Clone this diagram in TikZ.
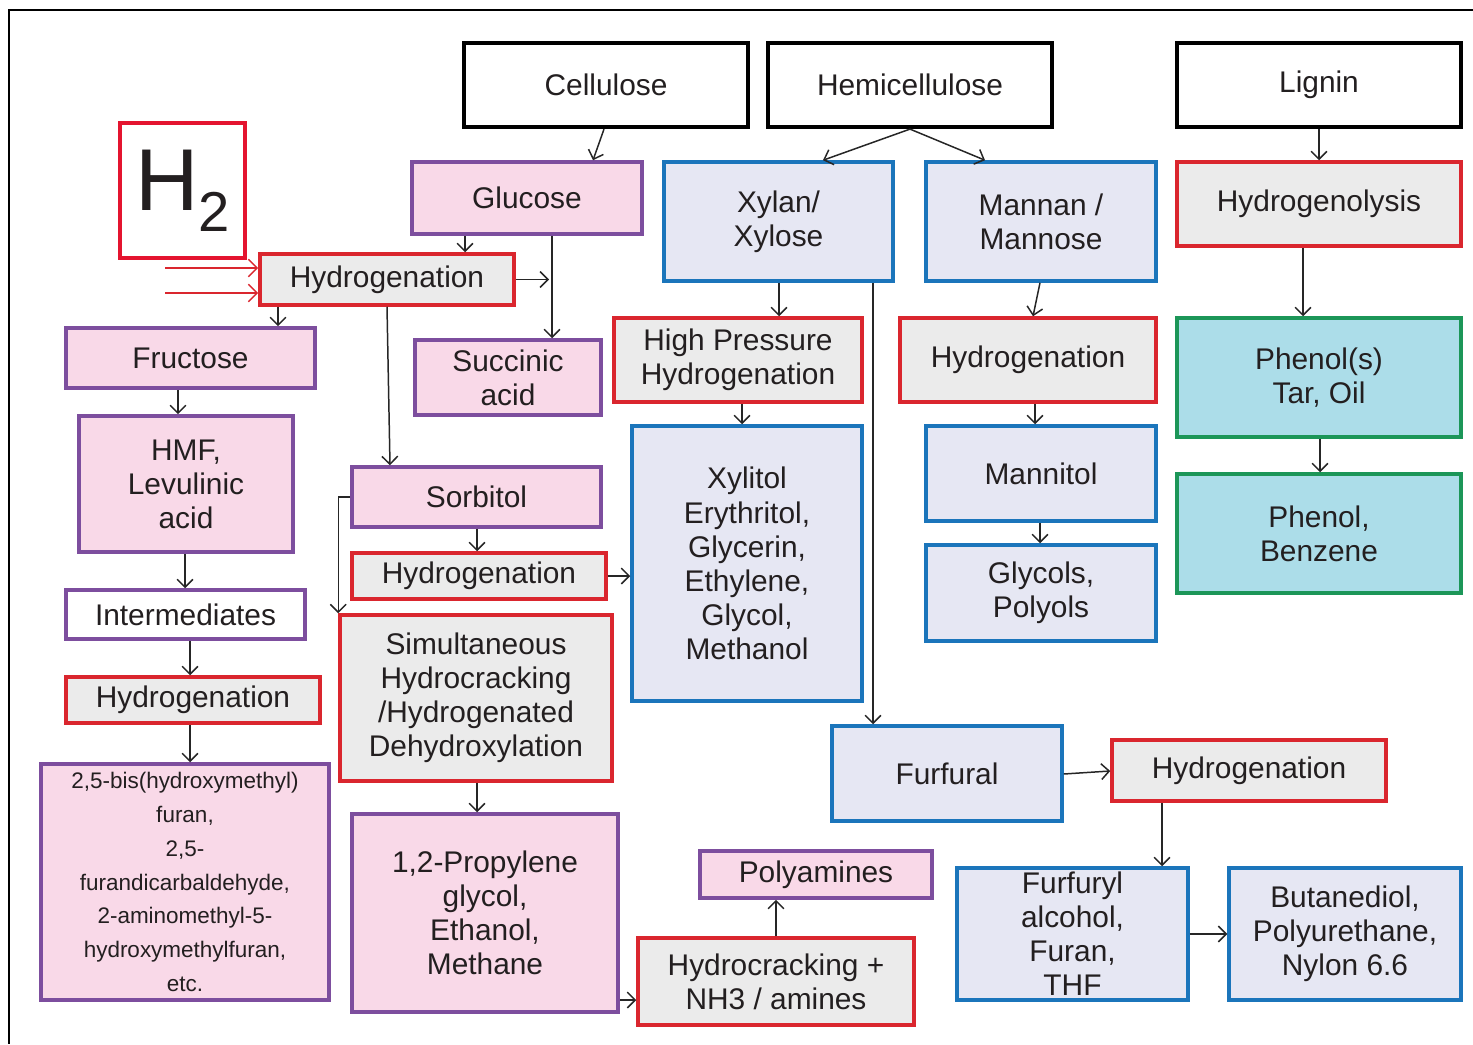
\documentclass[tikz,border=0pt]{standalone}
\usepackage{fontspec}
\setmainfont{Liberation Sans}
\usetikzlibrary{arrows.meta}
\definecolor{txt}{RGB}{35,31,32}
\definecolor{redline}{RGB}{218,38,46}
\definecolor{htwored}{RGB}{228,20,47}
\definecolor{grayfill}{RGB}{235,235,235}
\definecolor{purp}{RGB}{125,78,158}
\definecolor{pinkfill}{RGB}{249,217,232}
\definecolor{blueline}{RGB}{27,117,187}
\definecolor{bluefill}{RGB}{230,231,243}
\definecolor{greenline}{RGB}{28,150,88}
\definecolor{tealfill}{RGB}{172,221,233}

\begin{document}
\begin{tikzpicture}[x=0.02cm, y=-0.02cm,
    every node/.style={font=\fontsize{17}{19.4}\selectfont, text=txt, align=center, inner sep=0pt},
    wh/.style 2 args={minimum width=#1*0.02cm, minimum height=#2*0.02cm},
    source/.style={draw=black, line width=2.4pt, fill=white},
    sugar/.style={draw=purp, line width=2pt, fill=pinkfill},
    process/.style={draw=redline, line width=2pt, fill=grayfill},
    product/.style={draw=blueline, line width=2pt, fill=bluefill},
    aromatic/.style={draw=greenline, line width=2pt, fill=tealfill},
    arr/.style={draw=black!85, line width=0.85pt, -{Straight Barb[length=4.5pt,width=9pt]}},
    feed/.style={draw=redline, line width=0.85pt, -{Straight Barb[length=5pt,width=10pt]}}]
    \useasboundingbox (0,0) rectangle (1473,1044);
    \draw[line width=1pt] (1473,10) -- (9,10) -- (9,1044);

    % feedstocks
    \node[source, wh={284}{84}] (cellulose) at (606,85) {Cellulose};
    \node[source, wh={284}{84}] (hemi) at (910,85) {Hemicellulose};
    \node[source, wh={284}{84}] (lignin) at (1319,85) {Lignin};
    \node[draw=htwored, line width=2.8pt, fill=white, wh={125}{135}] (htwo) at (182.5,190.5)
        {\fontsize{50}{50}\selectfont H\raisebox{-0.42cm}{\fontsize{32}{32}\selectfont 2}};

    % second row
    \node[sugar, wh={230}{72}] (glucose) at (527,198) {Glucose};
    \node[product, wh={229}{119}] (xylan) at (778.5,221.5) {Xylan/\\Xylose};
    \node[product, wh={230}{119}] (mannan) at (1041,221.5) {Mannan /\\Mannose};
    \node[process, wh={284}{84}] (hydrogenolysis) at (1319,204) {Hydrogenolysis};

    % glucose branch
    \node[process, wh={254}{51}] (hydA) at (387,279.5) {Hydrogenation};
    \node[sugar, wh={249}{60}] (fructose) at (190.5,358) {Fructose};
    \node[sugar, wh={186}{75}] (succinic) at (508,377.5) {Succinic\\acid};
    \node[sugar, wh={214}{136}] (hmf) at (186,484) {HMF,\\Levulinic\\acid};
    \node[draw=purp, line width=2pt, fill=white, wh={239}{49}] (interm) at (185.5,614.5) {Intermediates};
    \node[process, wh={254}{46}] (hydD) at (193,700) {Hydrogenation};
    \node[sugar, wh={288}{236}, font=\fontsize{12.8}{19.3}\selectfont] (bhmf) at (185,882)
        {2,5-bis(hydroxymethyl)\\furan,\\2,5-\\furandicarbaldehyde,\\2-aminomethyl-5-\\hydroxymethylfuran,\\etc.};
    \node[sugar, wh={249}{60}] (sorbitol) at (476.5,497) {Sorbitol};
    \node[process, wh={254}{46}] (hydC) at (479,576) {Hydrogenation};
    \node[process, wh={272}{166}] (simult) at (476,698)
        {Simultaneous\\Hydrocracking\\/Hydrogenated\\Dehydroxylation};
    \node[sugar, wh={266}{198}] (propylene) at (485,913) {1,2-Propylene\\glycol,\\Ethanol,\\Methane};
    \node[sugar, wh={232}{47}] (polyamines) at (816,874.5) {Polyamines};
    \node[process, wh={276}{87}] (hcrack) at (776,981.5) {Hydrocracking +\\NH3 / amines};

    % hemicellulose branch
    \node[process, wh={248}{84}] (hphyd) at (738,360) {High Pressure\\Hydrogenation};
    \node[product, wh={230}{275}] (xylitol) at (747,563.5)
        {Xylitol\\Erythritol,\\Glycerin,\\Ethylene,\\Glycol,\\Methanol};
    \node[process, wh={256}{84}] (hydB) at (1028,360) {Hydrogenation};
    \node[product, wh={230}{95}] (mannitol) at (1041,473.5) {Mannitol};
    \node[product, wh={230}{96}] (glycols) at (1041,593) {Glycols,\\Polyols};
    \node[product, wh={230}{95}] (furfural) at (947,773.5) {Furfural};
    \node[process, wh={274}{61}] (hydE) at (1249,770.5) {Hydrogenation};
    \node[product, wh={231}{132}] (furfuryl) at (1072.5,934) {Furfuryl\\alcohol,\\Furan,\\THF};
    \node[product, wh={232}{132}] (butanediol) at (1345,934) {Butanediol,\\Polyurethane,\\Nylon 6.6};

    % lignin branch
    \node[aromatic, wh={284}{119}] (phenols) at (1319,377.5) {Phenol(s)\\Tar, Oil};
    \node[aromatic, wh={284}{119}] (benzene) at (1319,533.5) {Phenol,\\Benzene};

    % hydrogen feed
    \coordinate (h2a) at (165,268);
    \coordinate (h2b) at (165,293);
    \draw[feed] (h2a) -- (h2a -| hydA.west);
    \draw[feed] (h2b) -- (h2b -| hydA.west);

    % connectors
    \draw[arr] (604,0 |- cellulose.south) -- (593,0 |- glucose.north);
    \draw[arr] (hemi.south) -- (823,0 |- xylan.north);
    \draw[arr] (hemi.south) -- (985,0 |- mannan.north);
    \draw[arr] (lignin.south) -- (hydrogenolysis.north);
    \draw[arr] (465,0 |- glucose.south) -- (465,0 |- hydA.north);
    \coordinate (gsline) at (549,279.5);
    \draw[arr] (552,0 |- glucose.south) -- (552,0 |- succinic.north);
    \draw[arr] (hydA.east) -- (gsline);
    \draw[arr] (278,0 |- hydA.south) -- (278,0 |- fructose.north);
    \draw[arr] (387,0 |- hydA.south) -- (390,0 |- sorbitol.north);
    \draw[arr] (178,0 |- fructose.south) -- (178,0 |- hmf.north);
    \draw[arr] (185,0 |- hmf.south) -- (185,0 |- interm.north);
    \draw[arr] (190,0 |- interm.south) -- (190,0 |- hydD.north);
    \draw[arr] (190,0 |- hydD.south) -- (190,0 |- bhmf.north);
    \draw[arr] (477,0 |- sorbitol.south) -- (477,0 |- hydC.north);
    \draw[arr] (sorbitol.west) -| (simult.north west);
    \draw[arr] (hydC.east) -- (hydC.east -| xylitol.west);
    \draw[arr] (477,0 |- simult.south) -- (477,0 |- propylene.north);
    \draw[arr] (propylene.east |- 0,1000) -- (hcrack.west |- 0,1000);
    \draw[arr] (776,0 |- hcrack.north) -- (776,0 |- polyamines.south);
    \draw[arr] (779,0 |- xylan.south) -- (779,0 |- hphyd.north);
    \draw[arr] (742,0 |- hphyd.south) -- (742,0 |- xylitol.north);
    \draw[arr] (873,0 |- xylan.south) -- (873,0 |- furfural.north);
    \draw[arr] (1040,0 |- mannan.south) -- (1033,0 |- hydB.north);
    \draw[arr] (1035,0 |- hydB.south) -- (1035,0 |- mannitol.north);
    \draw[arr] (1040,0 |- mannitol.south) -- (1040,0 |- glycols.north);
    \draw[arr] (1303,0 |- hydrogenolysis.south) -- (1303,0 |- phenols.north);
    \draw[arr] (1320,0 |- phenols.south) -- (1320,0 |- benzene.north);
    \draw[arr] (furfural.east |- 0,774) -- (hydE.west |- 0,771);
    \draw[arr] (1162,0 |- hydE.south) -- (1162,0 |- furfuryl.north);
    \draw[arr] (furfuryl.east) -- (butanediol.west);
\end{tikzpicture}
\end{document}
